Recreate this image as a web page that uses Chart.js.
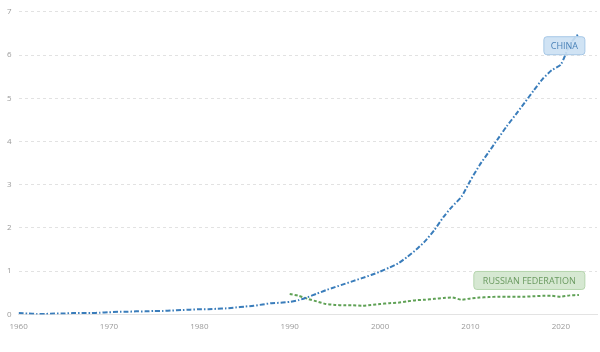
<!DOCTYPE html>
<html>
<head>
<meta charset="utf-8">
<script src="https://cdn.jsdelivr.net/npm/chart.js@4"></script>
<style>
  html, body { margin: 0; padding: 0; background: #fff; }
  #wrap { width: 600px; height: 352px; position: relative; }
</style>
</head>
<body>
<div id="wrap"><canvas id="chart"></canvas></div>
<script>
const years = []
for (let y = 1960; y <= 2022; y++) years.push(y)

const chinaValues = [
  0.03, 0.02, 0.01, 0.01, 0.02, 0.02, 0.03, 0.03, 0.03, 0.04,
  0.05, 0.06, 0.06, 0.07, 0.07, 0.08, 0.08, 0.09, 0.10, 0.11,
  0.12, 0.12, 0.13, 0.14, 0.16, 0.18, 0.20, 0.23, 0.26, 0.27,
  0.29, 0.33, 0.40, 0.48, 0.56, 0.63, 0.70, 0.77, 0.84, 0.91,
  0.99, 1.08, 1.18, 1.33, 1.50, 1.70, 1.95, 2.25, 2.50, 2.72,
  3.10, 3.45, 3.75, 4.05, 4.35, 4.62, 4.90, 5.18, 5.45, 5.65,
  5.78, 6.25, 6.50
]

const russiaYears = years.filter(y => y >= 1990)
const russiaValues = [
  0.47, 0.43, 0.36, 0.30, 0.24, 0.22, 0.21, 0.21, 0.20, 0.22,
  0.24, 0.26, 0.27, 0.30, 0.33, 0.34, 0.36, 0.38, 0.39, 0.34,
  0.37, 0.39, 0.40, 0.41, 0.41, 0.41, 0.41, 0.42, 0.43, 0.43,
  0.41, 0.44, 0.45
]

const xTicks = [1960, 1970, 1980, 1990, 2000, 2010, 2020]
const yTicks = [0, 1, 2, 3, 4, 5, 6, 7]

const seriesLabels = ['CHINA', 'RUSSIAN FEDERATION']
const chinaColor = '#3a7dbb'
const russiaColor = '#5fa155'

// draws the boxed series names next to the lines
const seriesTags = {
  id: 'seriesTags',
  afterDatasetsDraw(chart) {
    const { ctx, scales } = chart
    ctx.save()
    ctx.font = '9px "Open Sans"'
    ctx.textBaseline = 'middle'
    const tags = [
      { text: seriesLabels[0], x: scales.x.getPixelForValue(2021) - 6, y: scales.y.getPixelForValue(6.25) + 1,
        w: 41, fill: 'rgba(203,224,243,0.9)', stroke: '#a6c7e6', color: '#4a82b8', align: 'center' },
      { text: seriesLabels[1], x: scales.x.getPixelForValue(2022.6), y: scales.y.getPixelForValue(0.45) - 15,
        w: 111, fill: 'rgba(210,230,205,0.9)', stroke: '#b5d5ad', color: '#6a9a60', align: 'right' }
    ]
    tags.forEach(t => {
      const w = t.w
      const h = 18
      const left = t.align === 'center' ? t.x - w / 2 : t.x - w
      ctx.fillStyle = t.fill
      ctx.strokeStyle = t.stroke
      ctx.lineWidth = 1
      ctx.beginPath()
      ctx.roundRect(left + 0.5, t.y - h / 2 + 0.5, w, h, 3)
      ctx.fill()
      ctx.stroke()
      ctx.fillStyle = t.color
      ctx.textAlign = 'center'
      ctx.fillText(t.text, left + w / 2 + 0.5, t.y + 1)
    })
    ctx.restore()
  }
}

new Chart(document.getElementById('chart'), {
  type: 'line',
  data: {
    datasets: [
      {
        label: seriesLabels[0],
        data: years.map((y, i) => ({ x: y, y: chinaValues[i] })),
        borderColor: chinaColor,
        borderWidth: 2,
        borderDash: [5, 2, 1.5, 2],
        pointRadius: 0,
        tension: 0.2,
        fill: false
      },
      {
        label: seriesLabels[1],
        data: russiaYears.map((y, i) => ({ x: y, y: russiaValues[i] })),
        borderColor: russiaColor,
        borderWidth: 2,
        borderDash: [3, 2],
        pointRadius: 0,
        tension: 0.2,
        fill: false
      }
    ]
  },
  options: {
    responsive: true,
    maintainAspectRatio: false,
    animation: false,
    layout: { padding: { left: 0, right: 3, top: 5, bottom: 12 } },
    plugins: {
      legend: { display: false },
      tooltip: { enabled: false }
    },
    scales: {
      x: {
        type: 'linear',
        min: 1960,
        max: 2024,
        afterBuildTicks: axis => { axis.ticks = xTicks.map(v => ({ value: v })) },
        grid: { display: false, drawTicks: false },
        border: { display: true, color: '#e3e3e3' },
        ticks: {
          color: '#9a9a9a',
          font: { family: 'Open Sans', size: 8 },
          padding: 8,
          maxRotation: 0,
          callback: v => String(v)
        }
      },
      y: {
        min: 0,
        max: 7,
        afterBuildTicks: axis => { axis.ticks = yTicks.map(v => ({ value: v })) },
        grid: { color: '#e2e2e2', drawTicks: false, tickLength: 0 },
        border: { display: false, dash: [3, 3] },
        ticks: {
          color: '#9a9a9a',
          font: { family: 'Open Sans', size: 8 },
          padding: 7
        }
      }
    }
  },
  plugins: [seriesTags]
})
</script>
</body>
</html>
